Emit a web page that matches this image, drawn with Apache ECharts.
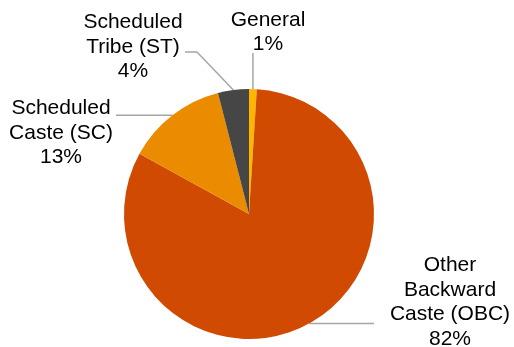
<!DOCTYPE html>
<html>
<head>
<meta charset="utf-8">
<script src="https://cdn.jsdelivr.net/npm/echarts@6/dist/echarts.min.js"></script>
<style>
  html, body { margin: 0; padding: 0; background: #fff; }
  #chart { width: 514px; height: 347px; }
</style>
</head>
<body>
<div id="chart"></div>
<script>
// Share of each caste category (percent), clockwise from 12 o'clock
const categories = ['General', 'Other Backward Caste (OBC)', 'Scheduled Caste (SC)', 'Scheduled Tribe (ST)'];
const shares = [1, 82, 13, 4];
// Label text broken over lines
const labelLines = [
  ['General'],
  ['Other', 'Backward', 'Caste (OBC)'],
  ['Scheduled', 'Caste (SC)'],
  ['Scheduled', 'Tribe (ST)']
];
const colors = ['#FFB600', '#D04A02', '#EB8C00', '#464646'];

// Where each label block sits (centre) and how its leader line bends
const labelSpots = [
  { x: 268, y: 32, bend: (p) => [[p[0], 53]] },
  { x: 450, y: 302, bend: (p) => [[374, p[1]]] },
  { x: 61, y: 133, bend: (p) => [[116, p[1]]] },
  { x: 133, y: 47, bend: (p) => [[197, 52], [185, 52]] }
];

const chart = echarts.init(document.getElementById('chart'), null, { renderer: 'canvas' });

chart.setOption({
  animation: false,
  backgroundColor: '#ffffff',
  series: [{
    type: 'pie',
    center: [249, 214],
    radius: [0, 125],
    startAngle: 90,
    clockwise: true,
    avoidLabelOverlap: false,
    data: categories.map((name, i) => ({
      name,
      value: shares[i],
      itemStyle: { color: colors[i] }
    })),
    label: {
      show: true,
      position: 'outside',
      fontFamily: 'Liberation Sans, Arial, sans-serif',
      fontSize: 21,
      lineHeight: 24.5,
      color: '#000000',
      align: 'center',
      formatter: (p) => labelLines[p.dataIndex].join('\n') + '\n' + p.value + '%'
    },
    labelLine: {
      show: true,
      lineStyle: { color: '#A6A6A6', width: 1.5 }
    },
    labelLayout: (params) => {
      const spot = labelSpots[params.dataIndex];
      const p0 = params.labelLinePoints[0];
      const pts = [p0].concat(spot.bend(p0));
      if (pts.length === 2) pts.push(pts[1]);
      return {
        x: spot.x,
        y: spot.y,
        align: 'center',
        verticalAlign: 'middle',
        labelLinePoints: pts
      };
    }
  }]
});
</script>
</body>
</html>
